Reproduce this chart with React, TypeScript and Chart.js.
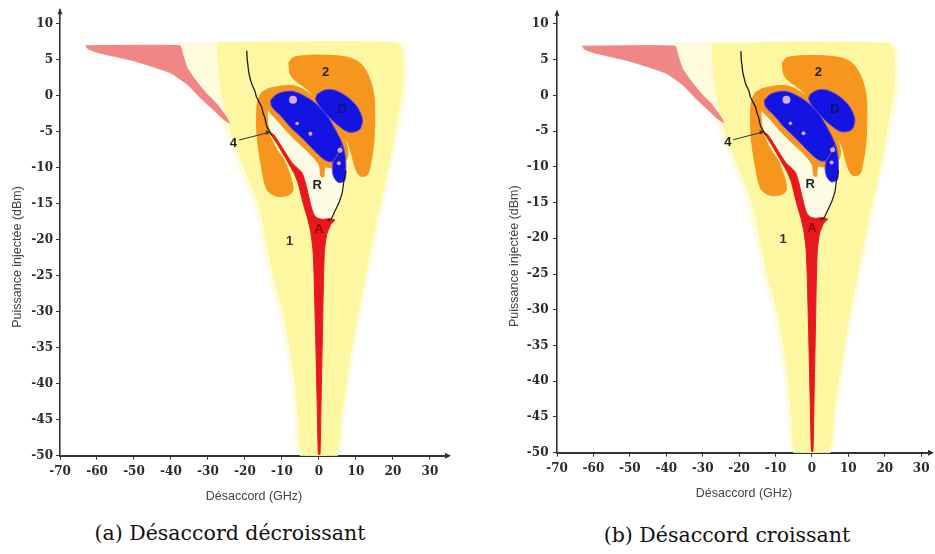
import React, { useEffect, useRef } from "react";
import { Chart, registerables } from "chart.js";

Chart.register(...registerables);

type Pt = [number, number];

// ---------- text ----------
const X_TITLE = "Désaccord (GHz)";
const Y_TITLE = "Puissance injectée (dBm)";
const CAPTIONS = ["(a) Désaccord décroissant", "(b) Désaccord croissant"];

// ---------- ticks ----------
const X_TICKS = [-70, -60, -50, -40, -30, -20, -10, 0, 10, 20, 30];
const Y_TICKS = [10, 5, 0, -5, -10, -15, -20, -25, -30, -35, -40, -45, -50];

// ---------- regions (GHz, dBm) ----------
const HALO_REGION: Pt[] = [
  [-38, 7.4], [21.5, 7.4], [23.3, 6.3], [23.8, 3], [23, -1.5], [21.5, -5], [19.5, -10],
  [16.5, -17], [13.8, -24], [11, -31], [8.7, -38], [6.8, -44.5], [5, -50], [-5, -50],
  [-6.5, -45], [-7.5, -40], [-9, -35], [-10.8, -30], [-13.5, -25], [-15.5, -20],
  [-17.7, -15], [-21.5, -10], [-25, -5.5], [-27, -3], [-30, -0.5], [-34, 2.5], [-37, 5.5],
];
const REGION_1: Pt[] = [
  [-27.5, 7.3], [21, 7.3], [22.4, 6.2], [22.8, 3.5], [22.2, 0], [21, -3.5], [18.7, -10],
  [15.6, -17], [12.9, -24], [10.2, -31], [7.8, -38], [6, -44.5], [4.2, -49.8], [-4.2, -49.8],
  [-5.5, -45], [-6.4, -40], [-7.8, -35], [-9.6, -30], [-12.3, -25], [-14.2, -20],
  [-16.4, -15], [-20.2, -10], [-23.8, -5], [-25.6, -1.5], [-26.8, 2], [-27.3, 5],
];
const PINK_REGION: Pt[] = [
  [-63, 6.9], [-37.6, 6.9], [-36.9, 5.8], [-35.6, 3.8], [-33.5, 2.2], [-30.5, 0.3],
  [-27.6, -1.2], [-25.3, -2.8], [-24.2, -3.8], [-25.8, -3.3], [-28.5, -2.0], [-31.5, -0.6],
  [-35.5, 1.5], [-40, 3.1], [-45, 4.0], [-50, 4.8], [-55, 5.4], [-60, 6.0], [-62.5, 6.5],
];
const REGION_R: Pt[] = [
  [-13, -4.5], [-12.3, -5.4], [-11.3, -6.1], [-9.6, -7.5], [-7.2, -9.4], [-4.6, -10.7],
  [-3.6, -12.2], [-2.6, -14.4], [-2, -15.6], [-1.4, -16.5], [0, -17], [1.5, -17.1],
  [2.8, -17], [4, -16.2], [5, -15], [5.8, -13.5], [6.6, -11.8], [7.2, -9], [6.5, -6.5],
  [3, -3.5], [-1, -1], [-6, 0.8], [-10.5, 0.8], [-12.8, -1], [-13.5, -3],
];
const REGION_2: Pt[] = [
  [-8.1, 4.6], [-6.8, 5.3], [-0.5, 5.6], [7.7, 5.3], [11.3, 4.4], [13.6, 2.5], [14.8, 0.2],
  [15.1, -2.5], [14.8, -6.7], [14, -9.4], [13.1, -11], [11.3, -11.2], [10, -10.3], [9, -8.5],
  [8, -6.8], [6.5, -5.6], [4.2, -4.2], [2.2, -2.7], [0.2, -1.2], [-1.8, 0.2], [-4.3, 1.3],
  [-6.5, 2.1], [-7.8, 3],
];
const ORANGE_STRIP: Pt[] = [
  [-14, 0.8], [-13.5, -0.7], [-14, -2.5], [-13.6, -4.8], [-12.7, -6.2], [-11.3, -7.6],
  [-9.5, -8.9], [-7.7, -11.2], [-7, -13.1], [-8.1, -13.8], [-11.3, -14], [-14, -13.1],
  [-15.4, -10.3], [-16.7, -5.7], [-16.7, -1.1], [-15.5, 0.4],
];
const ORANGE_RIM: Pt[] = [
  [-14, 0.9], [-11.5, 1.2], [-7.5, 1.4], [-4.5, 0.9], [-1, -0.3], [2.4, -2.1], [5.3, -4.4],
  [7.3, -6.5], [7.8, -8.4], [6.2, -9.7], [3, -10], [1.6, -10], [1.3, -11.3], [0.5, -11.2],
  [0.1, -9.7], [-2.6, -8], [-5.5, -6.6], [-8.3, -5.2], [-11, -3.6], [-13.5, -2.2], [-14.4, -0.6],
];
const REGION_A: Pt[] = [
  [-13.1, -5.3], [-11.3, -6.7], [-8.8, -8.9], [-6.8, -10.7], [-5.6, -12.2], [-4.3, -14.9],
  [-3.0, -17.2], [-2.2, -19], [-1.6, -21.5], [-1.3, -25], [-0.9, -33], [-0.5, -42],
  [-0.15, -49.8], [0.3, -49.8], [0.6, -42], [0.95, -33], [1.25, -25], [1.5, -21.5],
  [2.1, -19.3], [3.2, -17.9], [4.3, -17.3], [2.8, -17.1], [1, -17.2], [-0.5, -17],
  [-1.4, -16.5], [-2, -15.6], [-2.6, -14.4], [-3.6, -12.2], [-4.6, -10.7], [-7.2, -9.4],
  [-9.6, -7.5], [-11.3, -6.1], [-12.3, -5.4],
];
const BLUE_MAIN: Pt[] = [
  [-13.1, -0.7], [-11.3, 0.2], [-7.7, 0.6], [-5, 0.2], [-1.4, -0.9], [1.8, -2.5], [4.5, -4.8],
  [6.3, -6.7], [6.8, -8], [5, -8.9], [2.7, -9.2], [0.45, -8.5], [-2.3, -7.1], [-5, -5.7],
  [-7.7, -4.4], [-10.4, -2.8], [-12.7, -1.6],
];
const BLUE_LOW: Pt[] = [
  [3.8, -9.2], [5.2, -8.1], [6.3, -6.9], [7.1, -8.3], [7.3, -10.2], [7, -11.8], [5.3, -12.1],
  [4, -11.3], [3.6, -10.2],
];
const REGION_D: Pt[] = [
  [-0.45, 0.2], [1.8, 0.8], [4.5, 0.7], [7.7, -0.2], [10.4, -1.6], [11.8, -3.4], [10.9, -4.8],
  [8.1, -5.1], [5, -4.1], [2.3, -2.8], [0, -1.4], [-0.9, -0.5],
];
const CURVE_4: Pt[] = [
  [-19.5, 6.2], [-19.4, 5.0], [-19.2, 4.2], [-19, 3.3], [-18.6, 2.4], [-18.1, 1.5],
  [-17.3, 0.6], [-16.9, -0.2], [-16.2, -0.9], [-15.5, -1.6], [-15.1, -2.4], [-14.6, -3.1],
  [-14.3, -3.9], [-13.9, -4.5], [-13.3, -5], [-12.7, -5.5],
];
const CURVE_R: Pt[] = [
  [7.3, -10.5], [6.8, -11.7], [6.3, -13.5], [5.4, -14.9], [4.1, -16.3], [3.2, -17.2], [2.3, -17.4],
];
const ARROW_4: Pt[] = [[-21.6, -6.2], [-13.3, -5.1]];
const SPOTS_X = [-7, -5.9, -2.3, 5.7, 5.4];
const SPOTS_Y = [-0.6, -3.9, -5.3, -7.6, -9.4];

// ---------- labels ----------
const LABEL_TEXT = ["1", "2", "R", "A", "4", "D"];
const LABEL_X = [-7.9, 1.8, -0.45, 0, -23.1, 6.3];
const LABEL_Y = [-20.2, 3.2, -12.5, -18.6, -6.6, -2];
const LABEL_COLORS = ["#333", "#222", "#222", "#8a0a0a", "#222", "#101070"];

type Geom = {
  xMax: number; yMax: number; padTop: number; padRight: number; padBottom: number;
  xScaleH: number; width: number; height: number; left: number; tickPad: number;
};

const GEOMS: Geom[] = [
  { xMax: 34.9, yMax: 11.83, padTop: 6, padRight: 12, padBottom: 5.8, xScaleH: 48.5, width: 460, height: 510, left: 0, tickPad: 3 },
  { xMax: 32.7, yMax: 11.72, padTop: 1.7, padRight: 2, padBottom: 9.2, xScaleH: 48.1, width: 438, height: 510, left: 497, tickPad: 4.5 },
];

const toXY = (pts: Pt[]) => pts.map(([x, y]) => ({ x, y }));

function poly(pts: Pt[], color: string, border?: string, tension = 0.3) {
  const closed = pts.concat([pts[0]]);
  return {
    data: toXY(closed),
    showLine: true,
    fill: "shape",
    backgroundColor: color,
    borderColor: border ?? color,
    borderWidth: 1,
    pointRadius: 0,
    tension,
  };
}

function line(pts: Pt[], color: string, width: number, tension = 0.2) {
  return {
    data: toXY(pts),
    showLine: true,
    fill: false,
    borderColor: color,
    borderWidth: width,
    pointRadius: 0,
    tension,
  };
}

function buildDatasets() {
  const list: any[] = [
    poly(HALO_REGION, "#fefcdc"),
    poly(REGION_1, "#fcf7a0"),
    poly(PINK_REGION, "#f08686", undefined, 0.15),
    poly(REGION_R, "#fdfbe4"),
    poly(REGION_2, "#f6961e"),
    poly(ORANGE_STRIP, "#f6961e"),
    poly(ORANGE_RIM, "#f6961e"),
    poly(REGION_A, "#e8181e", undefined, 0.15),
    poly(BLUE_MAIN, "#1414e2", "#5a3cd8"),
    poly(BLUE_LOW, "#1414e2", "#7a4cd8"),
    poly(REGION_D, "#1414e2", "#6a44d8"),
    {
      data: SPOTS_X.map((x, i) => ({ x, y: SPOTS_Y[i] })),
      showLine: false,
      pointRadius: [4, 1.8, 2, 2.5, 2],
      pointBackgroundColor: "#d9a8e6",
      pointBorderWidth: 0,
      pointBorderColor: "#d9a8e6",
    },
    line(CURVE_4, "#1a1a1a", 1.3, 0.1),
    line(CURVE_R, "#1a1a1a", 1.2, 0.2),
    line(ARROW_4, "#333", 1, 0),
  ];
  const n = list.length;
  return list.map((d, i) => ({ ...d, order: n - i }));
}

function makeOverlay() {
  return {
    id: "overlay",
    afterDatasetsDraw(chart: any) {
      const { ctx } = chart;
      const xs = chart.scales.x;
      const ys = chart.scales.y;
      ctx.save();
      ctx.font = 'bold 13px "Liberation Sans", Arial, sans-serif';
      ctx.textAlign = "center";
      ctx.textBaseline = "middle";
      LABEL_TEXT.forEach((t, i) => {
        ctx.fillStyle = LABEL_COLORS[i];
        ctx.fillText(t, xs.getPixelForValue(LABEL_X[i]), ys.getPixelForValue(LABEL_Y[i]));
      });
      // arrow head for the "4" pointer
      const ax = xs.getPixelForValue(ARROW_4[1][0]);
      const ay = ys.getPixelForValue(ARROW_4[1][1]);
      ctx.fillStyle = "#333";
      ctx.beginPath();
      ctx.moveTo(ax + 1, ay);
      ctx.lineTo(ax - 4, ay - 2);
      ctx.lineTo(ax - 3.5, ay + 2.5);
      ctx.closePath();
      ctx.fill();
      ctx.restore();
    },
    afterDraw(chart: any) {
      const { ctx, chartArea: a } = chart;
      ctx.save();
      ctx.fillStyle = "#333";
      ctx.beginPath();
      ctx.moveTo(a.right + 3, a.bottom);
      ctx.lineTo(a.right - 3, a.bottom - 3);
      ctx.lineTo(a.right - 3, a.bottom + 3);
      ctx.closePath();
      ctx.fill();
      ctx.beginPath();
      ctx.moveTo(a.left, a.top - 2);
      ctx.lineTo(a.left - 2.5, a.top + 4);
      ctx.lineTo(a.left + 2.5, a.top + 4);
      ctx.closePath();
      ctx.fill();
      ctx.translate(a.left - 42.5, (a.top + a.bottom) / 2 + 24);
      ctx.rotate(-Math.PI / 2);
      ctx.font = '12.5px "Liberation Sans", Arial, sans-serif';
      ctx.fillStyle = "#444";
      ctx.textAlign = "center";
      ctx.textBaseline = "middle";
      ctx.fillText(Y_TITLE, 0, 0);
      ctx.restore();
    },
  };
}

function Panel({ g }: { g: Geom }) {
  const ref = useRef<HTMLCanvasElement | null>(null);
  useEffect(() => {
    if (!ref.current) return;
    const tickFont = { family: '"DejaVu Serif", serif', size: 12, weight: "bold" as const };
    const chart = new Chart(ref.current, {
      type: "scatter",
      data: { datasets: buildDatasets() as any },
      options: {
        animation: false,
        responsive: false,
        events: [],
        layout: { padding: { top: g.padTop, right: g.padRight, bottom: g.padBottom, left: 0 } },
        plugins: { legend: { display: false }, tooltip: { enabled: false } },
        scales: {
          x: {
            type: "linear",
            min: -70,
            max: g.xMax,
            afterBuildTicks: (s: any) => { s.ticks = X_TICKS.map((v) => ({ value: v })); },
            afterFit: (s: any) => { s.height = g.xScaleH; },
            ticks: { font: tickFont, color: "#2a2a2a", padding: 5, autoSkip: false, maxRotation: 0 },
            grid: { display: true, drawOnChartArea: false, drawTicks: true, tickLength: 4, color: "#333" },
            border: { display: true, color: "#333", width: 2 },
            title: {
              display: true,
              text: X_TITLE,
              color: "#444",
              font: { family: '"Liberation Sans", Arial, sans-serif', size: 12.5 },
              padding: { top: 0, bottom: 0 },
            },
          },
          y: {
            type: "linear",
            min: -50,
            max: g.yMax,
            afterBuildTicks: (s: any) => { s.ticks = Y_TICKS.map((v) => ({ value: v })); },
            afterFit: (s: any) => { s.width = 60; },
            ticks: { font: tickFont, color: "#2a2a2a", padding: g.tickPad, autoSkip: false },
            grid: { display: true, drawOnChartArea: false, drawTicks: true, tickLength: 4, color: "#333" },
            border: { display: true, color: "#333", width: 1.6 },
          },
        },
      },
      plugins: [makeOverlay()],
    } as any);
    return () => chart.destroy();
  }, [g]);
  return (
    <canvas
      ref={ref}
      width={g.width}
      height={g.height}
      style={{ position: "absolute", left: g.left, top: 0, width: g.width, height: g.height }}
    />
  );
}

export default function App() {
  const capStyle: React.CSSProperties = {
    position: "absolute",
    width: 320,
    textAlign: "center",
    fontFamily: '"DejaVu Serif", serif',
    fontSize: 20.5,
    lineHeight: "24px",
    color: "#111",
    whiteSpace: "nowrap",
  };
  return (
    <div style={{ position: "absolute", left: 0, top: 0, width: 935, height: 554, background: "#fff", overflow: "hidden" }}>
      <Panel g={GEOMS[0]} />
      <Panel g={GEOMS[1]} />
      <div style={{ ...capStyle, left: 230 - 160, top: 521 }}>{CAPTIONS[0]}</div>
      <div style={{ ...capStyle, left: 727 - 160, top: 523 }}>{CAPTIONS[1]}</div>
    </div>
  );
}
